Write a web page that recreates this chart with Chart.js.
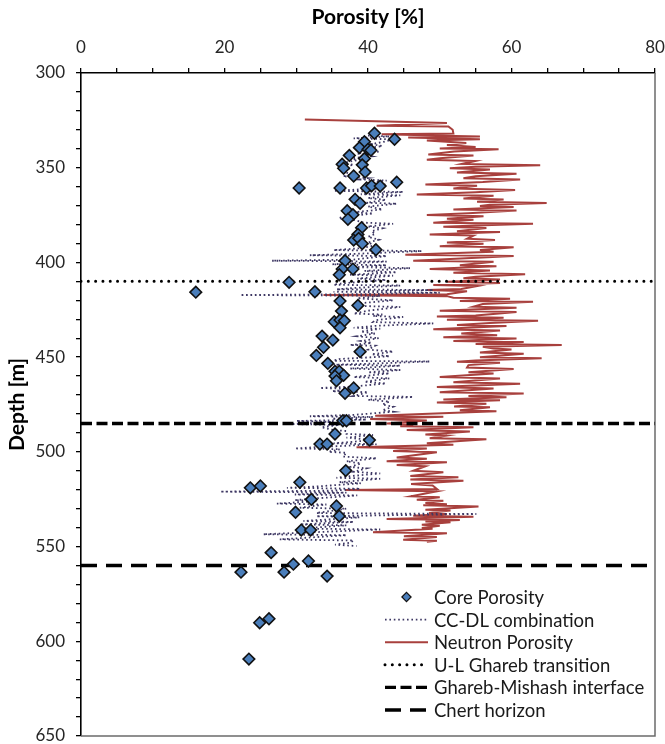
<!DOCTYPE html>
<html>
<head>
<meta charset="utf-8">
<script src="https://cdn.jsdelivr.net/npm/chart.js@4.4.1/dist/chart.umd.min.js"></script>
<style>
  html, body { margin: 0; padding: 0; background: #ffffff; }
  #wrap { width: 665px; height: 744px; position: relative; }
</style>
</head>
<body>
<div id="wrap"><canvas id="c" width="665" height="744"></canvas></div>
<script>
// ---------------- DATA ----------------
const corePorosity = [40.9, 43.7, 39.5, 38.8, 40.0, 40.4, 37.4, 39.5, 36.4, 36.6, 39.2, 39.6, 38.0, 44.0, 30.4, 36.1, 39.8, 40.5, 41.7,
  38.2, 38.9, 37.1, 37.9, 37.2, 39.1, 38.6, 38.0, 38.7, 39.2, 41.1, 36.8, 36.4, 37.9, 36.0,
  29.0, 32.6, 16.0, 36.1, 38.6, 36.3, 35.3, 36.1, 36.7, 36.1, 33.6, 35.1,
  33.8, 32.8, 38.9, 34.4, 35.4, 36.0, 36.6, 35.4, 35.6, 38.0, 36.8,
  36.5, 37.0, 35.4, 40.2, 33.3, 34.3, 36.9, 30.5, 23.6, 25.0,
  32.1, 35.6, 29.9, 36.0, 30.7, 32.0, 26.5, 22.3, 28.3, 29.6, 31.7, 34.3, 24.9, 26.2, 23.4];
const coreDepth = [331.8, 335.0, 336.3, 339.4, 340.3, 340.8, 343.5, 345.2, 348.2, 350.3, 348.5, 352.3, 354.4, 357.7, 360.7, 360.7, 360.7, 359.5, 359.7,
  366.7, 368.8, 372.7, 374.8, 377.2, 381.7, 385.2, 388.2, 387.3, 390.1, 393.3, 399.1, 403.5, 403.5, 406.5,
  410.5, 415.5, 415.7, 420.4, 422.7, 425.7, 431.3, 430.4, 430.8, 434.5, 438.9, 441.0,
  444.8, 449.1, 447.1, 453.3, 457.5, 457.5, 459.6, 460.0, 462.5, 466.3, 469.1,
  483.6, 483.6, 490.6, 493.8, 495.9, 495.9, 509.9, 516.1, 519.0, 518.0,
  525.1, 528.6, 531.9, 533.9, 541.3, 541.3, 553.2, 563.5, 563.5, 559.3, 557.6, 565.6, 590.2, 588.1, 609.4];

const ccdlDepth = [333.0, 333.5, 334.5, 335.0, 336.5, 337.5, 338.5, 340.0, 341.5, 342.5, 344.0, 345.0, 346.0, 347.5, 348.5, 349.5, 350.5, 352.0, 353.5, 354.5,
  355.5, 356.2, 356.8, 358.0, 359.0, 360.0, 361.0, 362.2, 362.8, 364.0, 364.6, 366.0, 367.0, 368.5, 369.0, 370.5, 372.0, 373.5, 374.2, 376.0,
  376.7, 377.5, 379.0, 379.6, 381.0, 382.0, 383.5, 385.0, 386.5, 388.0, 389.5, 391.0, 392.5, 393.5, 394.0, 395.5, 396.2, 396.6, 398.5, 399.1,
  399.5, 401.0, 401.5, 402.5, 403.0, 404.5, 405.2, 406.5, 407.0, 408.5, 409.3, 411.0, 411.8, 412.2, 413.5, 414.2, 414.6, 415.5, 416.0, 416.8,
  417.2, 417.6, 419.0, 420.0, 421.5, 423.0, 423.5, 425.5, 427.0, 427.5, 428.3, 428.8, 430.5, 431.5, 432.2, 433.5, 434.5, 435.0, 436.5, 437.5,
  439.0, 440.0, 441.5, 442.5, 443.6, 444.0, 446.0, 447.1, 448.5, 449.5, 451.0, 451.9, 452.3, 453.5, 454.0, 454.5, 456.0, 456.8, 458.0, 458.6,
  460.5, 461.2, 463.0, 463.9, 465.5, 466.3, 466.8, 468.0, 468.5, 470.5, 471.0, 472.5, 473.5, 475.0, 476.2, 478.0, 478.8, 480.5, 481.2, 481.6,
  482.5, 483.0, 483.7, 484.2, 485.3, 485.8, 487.0, 488.5, 489.0, 490.5, 491.1, 492.5, 493.8, 495.5, 496.0, 497.5, 498.2, 498.6, 500.0, 500.5,
  502.5, 503.4, 505.0, 506.1, 508.0, 508.7, 510.5, 511.4, 513.0, 513.7, 514.2, 516.0, 516.6, 518.5, 519.0, 519.5, 520.5, 521.0, 521.5, 522.5,
  523.0, 524.5, 525.5, 526.0, 527.3, 527.8, 529.5, 530.0, 532.3, 532.8, 534.0, 534.6, 536.5, 537.0, 538.3, 538.8, 540.5, 541.0, 543.5, 544.0,
  546.2, 546.8, 548.0, 549.0, 549.7];
const ccdlPorosity = [40.0, 43.0, 38.0, 43.5, 42.0, 40.5, 42.0, 39.5, 41.5, 38.5, 40.5, 37.5, 38.5, 36.5, 38.0, 36.0, 37.5, 36.5, 37.8, 36.5,
  40.0, 38.9, 42.6, 40.0, 42.6, 39.5, 41.0, 35.2, 44.9, 39.0, 44.5, 40.0, 42.5, 39.8, 44.0, 40.0, 42.0, 38.0, 40.7, 36.5,
  35.9, 38.0, 39.4, 43.5, 40.0, 42.0, 40.5, 41.0, 40.0, 41.5, 40.0, 41.0, 39.0, 35.2, 47.5, 38.0, 31.9, 42.6, 38.0, 26.6,
  42.6, 35.0, 42.6, 38.4, 45.9, 39.5, 44.0, 37.5, 43.5, 38.5, 42.5, 36.5, 35.2, 44.5, 38.0, 35.6, 49.1, 35.2, 50.0, 38.0,
  22.2, 41.7, 38.5, 43.5, 39.0, 38.9, 44.5, 40.0, 38.0, 42.0, 40.7, 44.9, 41.0, 40.7, 49.1, 41.0, 38.0, 41.7, 39.0, 41.0,
  38.5, 41.5, 39.0, 40.5, 37.5, 41.0, 40.0, 43.5, 40.5, 43.0, 36.0, 35.2, 48.6, 40.0, 35.2, 44.5, 37.5, 44.5, 40.0, 43.0,
  38.0, 43.0, 39.5, 42.5, 38.0, 33.3, 38.4, 35.0, 40.0, 38.0, 46.3, 40.0, 43.0, 42.0, 43.5, 42.0, 43.5, 38.0, 31.9, 40.7,
  35.0, 39.8, 30.0, 35.2, 29.0, 36.0, 33.5, 35.2, 37.0, 37.0, 40.7, 37.0, 40.7, 35.2, 41.2, 33.0, 29.8, 36.1, 34.5, 37.0,
  36.5, 41.2, 37.0, 39.0, 37.5, 39.8, 38.0, 41.7, 37.0, 35.6, 41.7, 36.0, 39.0, 32.0, 28.7, 38.9, 35.0, 19.4, 37.0, 29.8,
  38.5, 33.0, 29.8, 33.0, 27.3, 34.2, 30.5, 37.0, 32.8, 55.1, 32.8, 38.8, 31.0, 38.0, 30.5, 37.0, 30.5, 41.7, 25.4, 37.0,
  27.7, 38.0, 37.5, 35.4, 38.4];

const neutronDepth = [324.5, 326.4, 327.8, 328.2, 330.0, 331.9, 332.4, 333.5, 334.1, 335.0, 335.6, 337.0, 338.0, 339.0, 339.8, 340.3, 341.5, 343.0, 343.6, 345.0,
  345.8, 346.5, 348.0, 348.7, 349.5, 350.3, 351.0, 352.5, 353.2, 354.5, 355.6, 356.2, 357.5, 358.8, 359.5, 361.0, 361.8, 363.0, 364.2, 364.8,
  366.2, 366.8, 368.0, 368.6, 369.5, 370.2, 370.8, 372.0, 372.6, 374.0, 375.0, 375.6, 377.0, 377.5, 379.0, 379.6, 380.5, 381.1, 381.8, 383.5,
  384.0, 385.2, 385.8, 387.5, 388.2, 389.5, 390.2, 391.5, 392.0, 393.5, 394.3, 396.0, 396.6, 398.5, 399.1, 399.6, 401.5, 402.0, 403.5, 404.2,
  405.5, 406.3, 407.5, 408.4, 409.0, 410.2, 410.8, 411.9, 412.5, 414.0, 414.6, 415.2, 416.8, 417.2, 417.8, 418.6, 419.2, 420.3, 420.8, 422.0,
  423.4, 423.9, 425.5, 426.2, 428.0, 428.6, 429.2, 430.2, 430.8, 432.0, 433.0, 433.5, 435.3, 435.9, 437.5, 438.5, 439.5, 440.2, 441.5, 442.0,
  443.0, 443.6, 444.5, 445.4, 446.0, 447.5, 448.2, 450.0, 450.6, 451.8, 452.4, 452.9, 454.2, 455.5, 456.2, 458.0, 458.6, 460.5, 461.3, 463.2,
  464.0, 465.8, 466.6, 468.5, 469.2, 470.5, 471.2, 472.3, 472.8, 474.0, 474.6, 476.0, 476.5, 478.0, 478.6, 481.0, 481.5, 482.7, 483.5, 485.0,
  485.5, 486.5, 487.0, 488.5, 489.2, 490.8, 491.4, 492.8, 493.4, 495.5, 496.2, 497.6, 498.2, 499.6, 500.2, 503.0, 503.6, 504.9, 505.5, 507.0,
  507.6, 510.0, 510.8, 512.8, 513.4, 514.6, 515.2, 517.0, 517.8, 519.6, 520.2, 520.8, 523.5, 524.0, 525.3, 525.8, 527.0, 527.6, 528.2, 528.9,
  530.5, 531.0, 532.3, 532.8, 533.7, 534.2, 535.4, 536.0, 536.8, 537.2, 538.5, 539.0, 540.2, 540.6, 542.4, 543.0, 544.6, 545.0, 546.4, 546.9,
  547.5];
const neutronPorosity = [31.2, 51.0, 41.2, 51.2, 51.8, 51.9, 41.9, 55.6, 45.6, 55.6, 48.2, 53.7, 51.0, 55.0, 50.0, 58.2, 52.0, 48.4, 54.7, 50.0,
  48.2, 54.9, 53.1, 64.0, 55.0, 51.4, 57.0, 52.4, 60.7, 55.0, 53.3, 61.2, 56.0, 48.0, 55.2, 51.9, 60.5, 55.0, 46.8, 57.5,
  53.3, 58.9, 55.2, 64.9, 57.0, 55.6, 60.3, 51.9, 60.7, 54.0, 48.2, 56.1, 51.0, 54.7, 49.1, 63.0, 55.0, 50.5, 56.5, 52.4,
  58.4, 48.6, 54.7, 53.8, 57.7, 51.0, 56.1, 50.0, 60.3, 55.6, 57.5, 45.2, 60.3, 50.0, 46.3, 57.5, 52.8, 57.9, 48.6, 57.0,
  51.9, 61.9, 55.0, 53.3, 58.4, 51.0, 58.4, 49.1, 55.2, 53.0, 48.2, 53.8, 51.0, 33.8, 51.0, 51.9, 59.8, 52.8, 63.0, 56.0,
  54.7, 60.7, 50.0, 60.7, 55.0, 49.6, 58.9, 51.0, 63.7, 57.0, 52.4, 59.3, 49.1, 58.4, 53.0, 58.0, 50.5, 60.7, 51.9, 61.7,
  55.0, 67.0, 56.0, 57.5, 60.0, 55.6, 61.7, 55.6, 64.2, 55.0, 52.4, 58.4, 54.0, 53.8, 60.3, 54.0, 57.5, 50.0, 58.4, 51.9,
  61.2, 49.6, 57.5, 50.0, 61.7, 54.0, 59.3, 50.5, 58.4, 49.6, 56.5, 52.0, 57.0, 52.8, 57.9, 41.0, 50.5, 40.3, 48.2, 42.6,
  46.3, 44.5, 54.7, 45.4, 54.2, 48.0, 51.0, 48.6, 56.5, 48.2, 51.9, 38.4, 48.2, 43.5, 49.6, 44.0, 48.2, 42.6, 51.0, 44.0,
  48.0, 46.3, 50.5, 45.9, 52.6, 45.9, 53.3, 46.0, 49.0, 49.6, 36.8, 49.6, 46.0, 50.0, 46.8, 50.5, 48.0, 51.0, 47.7, 55.4,
  48.0, 51.5, 48.5, 51.0, 46.3, 54.7, 42.6, 52.8, 48.0, 51.5, 47.5, 50.0, 47.5, 49.0, 40.7, 51.0, 45.0, 49.6, 44.9, 49.6,
  48.2];

const horizonLabels = ['U-L Ghareb transition', 'Ghareb-Mishash interface', 'Chert horizon'];
const horizonDepths = [410, 485, 560];
const horizonSpan = [0, 80];

const xTickLabels = [0, 20, 40, 60, 80];
const yTickLabels = [300, 350, 400, 450, 500, 550, 600, 650];

// ---------------- BUILD ----------------
const toPts = (xs, ys) => xs.map((v, i) => ({ x: v, y: ys[i] }));
const horizonPts = d => horizonSpan.map(x => ({ x: x, y: d }));

const FONT = 'Lato, "Open Sans", sans-serif';

const datasets = [
  { label: 'Core Porosity', data: toPts(corePorosity, coreDepth), showLine: false,
    pointStyle: 'rectRot', pointRadius: 5.8, pointBackgroundColor: '#4a7ebb', pointBorderColor: '#111',
    pointBorderWidth: 1.6, order: 0, legendMarker: true },
  { label: 'CC-DL combination', data: toPts(ccdlPorosity, ccdlDepth), showLine: true, pointRadius: 0,
    borderColor: '#3d3763', borderWidth: 1.8, borderDash: [1.6, 2.8], order: 2 },
  { label: 'Neutron Porosity', data: toPts(neutronPorosity, neutronDepth), showLine: true, pointRadius: 0,
    borderColor: '#a8403d', borderWidth: 2, borderDash: [], order: 3 },
  { label: horizonLabels[0], data: horizonPts(horizonDepths[0]), showLine: true, pointRadius: 0,
    borderColor: '#000', borderWidth: 3, borderDash: [0.01, 7.3], borderCapStyle: 'round', order: 1 },
  { label: horizonLabels[1], data: horizonPts(horizonDepths[1]), showLine: true, pointRadius: 0,
    borderColor: '#000', borderWidth: 3.6, borderDash: [11, 4.5], order: 1 },
  { label: horizonLabels[2], data: horizonPts(horizonDepths[2]), showLine: true, pointRadius: 0,
    borderColor: '#000', borderWidth: 3.6, borderDash: [16, 9], order: 1 }
];

const framePlugin = {
  id: 'frame',
  beforeDatasetsDraw(chart) {
    const { ctx, chartArea: a } = chart;
    ctx.save();
    ctx.strokeStyle = '#6b6b6b';
    ctx.lineWidth = 1.5;
    ctx.beginPath();
    ctx.moveTo(a.right, a.top);
    ctx.lineTo(a.right, a.bottom);
    ctx.lineTo(a.left, a.bottom);
    ctx.stroke();
    ctx.restore();
  }
};

const legendPlugin = {
  id: 'customLegend',
  afterDraw(chart) {
    const { ctx, chartArea: a } = chart;
    const sx0 = a.left + 304, sx1 = a.left + 347, tx = a.left + 353;
    let y = a.bottom - 139;
    const dy = 22.6;
    ctx.save();
    ctx.font = '18.5px ' + FONT;
    ctx.textBaseline = 'middle';
    ctx.textAlign = 'left';
    chart.data.datasets.forEach(ds => {
      if (ds.legendMarker) {
        const cx = (sx0 + sx1) / 2, r = 4.6;
        ctx.beginPath();
        ctx.moveTo(cx - r, y); ctx.lineTo(cx, y - r); ctx.lineTo(cx + r, y); ctx.lineTo(cx, y + r);
        ctx.closePath();
        ctx.fillStyle = ds.pointBackgroundColor; ctx.fill();
        ctx.lineWidth = 1.2; ctx.strokeStyle = ds.pointBorderColor; ctx.stroke();
      } else {
        ctx.beginPath();
        ctx.setLineDash(ds.borderDash || []);
        ctx.lineCap = ds.borderCapStyle || 'butt';
        ctx.lineWidth = Math.min(ds.borderWidth, 3.4);
        ctx.strokeStyle = ds.borderColor;
        ctx.moveTo(sx0, y); ctx.lineTo(sx1, y);
        ctx.stroke();
        ctx.setLineDash([]);
      }
      ctx.fillStyle = '#1a1a1a';
      ctx.fillText(ds.label, tx, y + 1);
      y += dy;
    });
    ctx.restore();
  }
};

new Chart(document.getElementById('c'), {
  type: 'scatter',
  data: { datasets },
  plugins: [framePlugin, legendPlugin],
  options: {
    responsive: false,
    devicePixelRatio: 1,
    animation: false,
    layout: { padding: { left: 0, right: 10, top: 0, bottom: 8 } },
    plugins: { legend: { display: false }, tooltip: { enabled: false } },
    elements: { line: { tension: 0 } },
    scales: {
      x: {
        type: 'linear', position: 'top', min: 0, max: 80,
        afterFit(s) { s.height = 73; s.paddingLeft = 0; s.paddingRight = 0; s.paddingTop = 0; s.paddingBottom = 0; },
        afterBuildTicks(s) { s.ticks = []; for (let v = 0; v <= 80; v += 5) s.ticks.push({ value: v }); },
        ticks: {
          autoSkip: false, maxRotation: 0, padding: 10, color: '#262626',
          font: { family: FONT, size: 17 },
          callback: v => xTickLabels.includes(v) ? String(v) : ''
        },
        grid: { drawOnChartArea: false, drawTicks: true, tickLength: 5, color: '#000', lineWidth: 1.3 },
        border: { display: true, color: '#000', width: 1.6 },
        title: { display: true, text: 'Porosity [%]', color: '#000',
          font: { family: FONT, size: 21, weight: 'bold' }, padding: { top: 5, bottom: 0 } }
      },
      y: {
        type: 'linear', position: 'left', reverse: true, min: 300, max: 650,
        afterFit(s) { s.width = 81; s.paddingLeft = 0; s.paddingRight = 0; s.paddingTop = 0; s.paddingBottom = 0; },
        afterBuildTicks(s) { s.ticks = []; for (let v = 300; v <= 650; v += 10) s.ticks.push({ value: v }); },
        ticks: {
          autoSkip: false, padding: 11, color: '#262626',
          font: { family: FONT, size: 17 },
          callback: v => yTickLabels.includes(v) ? String(v) : ''
        },
        grid: { drawOnChartArea: false, drawTicks: true, tickLength: 5, color: '#000', lineWidth: 1.3 },
        border: { display: true, color: '#000', width: 1.6 },
        title: { display: true, text: 'Depth [m]', color: '#000',
          font: { family: FONT, size: 21, weight: 'bold' }, padding: { top: 5, bottom: 0 } }
      }
    }
  }
});
</script>
</body>
</html>
